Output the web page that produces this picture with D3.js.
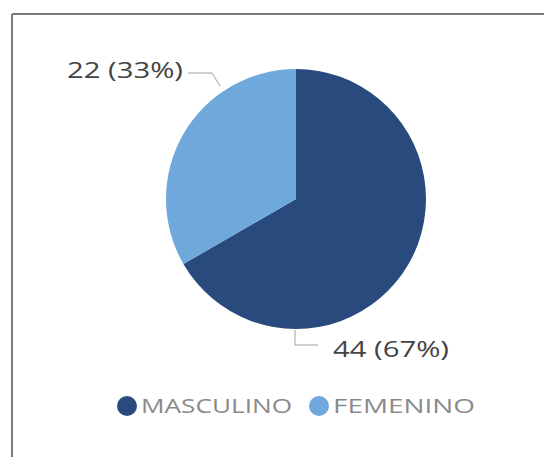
<!DOCTYPE html>
<html>
<head>
<meta charset="utf-8">
<script src="https://cdn.jsdelivr.net/npm/d3@7"></script>
<style>
  html, body { margin: 0; padding: 0; background: #fff; }
  svg { display: block; }
</style>
</head>
<body>
<svg id="chart" width="544" height="457"></svg>
<script>
// Gender breakdown
const categories = ["MASCULINO", "FEMENINO"];
const counts = [44, 22];
const colors = ["#284a7c", "#6fa9db"];

const W = 544, H = 457;
const cx = 296, cy = 199, radius = 130;
const FONT = "'Open Sans', sans-serif";

const svg = d3.select("#chart");

// card frame (top and left edges)
svg.append("line").attr("x1", 12).attr("y1", 14).attr("x2", W).attr("y2", 14)
  .attr("stroke", "#7a7a7a").attr("stroke-width", 2);
svg.append("line").attr("x1", 12).attr("y1", 14).attr("x2", 12).attr("y2", H)
  .attr("stroke", "#7a7a7a").attr("stroke-width", 2);

const total = d3.sum(counts);
const data = categories.map((c, i) => ({ cat: c, value: counts[i], color: colors[i] }));

const pie = d3.pie().value(d => d.value).sort(null).startAngle(0).endAngle(2 * Math.PI);
const arc = d3.arc().innerRadius(0).outerRadius(radius);
const arcs = pie(data);

const g = svg.append("g").attr("transform", `translate(${cx},${cy})`);
g.selectAll("path").data(arcs).enter().append("path")
  .attr("d", arc)
  .attr("fill", d => d.data.color);

// data labels with leader lines (points relative to pie centre)
const fmt = d => `${d.value} (${Math.round(d.value / total * 100)}%)`;
const labelStyle = {
  MASCULINO: { pts: [[-1, 131], [-1, 146], [22, 146]], tx: 37, ty: 151, anchor: "start", len: 116 },
  FEMENINO: { pts: [[-76, -113], [-84, -126], [-108, -126]], tx: -113, ty: -128, anchor: "end", len: 116 }
};
arcs.forEach(a => {
  const s = labelStyle[a.data.cat];
  g.append("polyline")
    .attr("points", s.pts.map(p => p.join(",")).join(" "))
    .attr("fill", "none").attr("stroke", "#a0a0a0").attr("stroke-width", 1);
  g.append("text")
    .attr("x", s.tx).attr("y", s.ty)
    .attr("dy", "0.35em")
    .attr("text-anchor", s.anchor)
    .attr("font-family", FONT)
    .attr("font-size", 21)
    .attr("fill", "#444")
    .attr("textLength", s.len)
    .attr("lengthAdjust", "spacingAndGlyphs")
    .text(fmt(a.data));
});

// legend
const legend = svg.append("g").attr("transform", "translate(127,406)");
const legendX = [0, 192];
const legendLen = [151, 142];
data.forEach((d, i) => {
  const item = legend.append("g").attr("transform", `translate(${legendX[i]},0)`);
  item.append("circle").attr("r", 10).attr("fill", d.color);
  item.append("text").attr("x", 14).attr("dy", "0.36em")
    .attr("font-family", FONT)
    .attr("font-size", 20)
    .attr("fill", "#8a8a8a")
    .attr("textLength", legendLen[i])
    .attr("lengthAdjust", "spacingAndGlyphs")
    .text(d.cat);
});
</script>
</body>
</html>
